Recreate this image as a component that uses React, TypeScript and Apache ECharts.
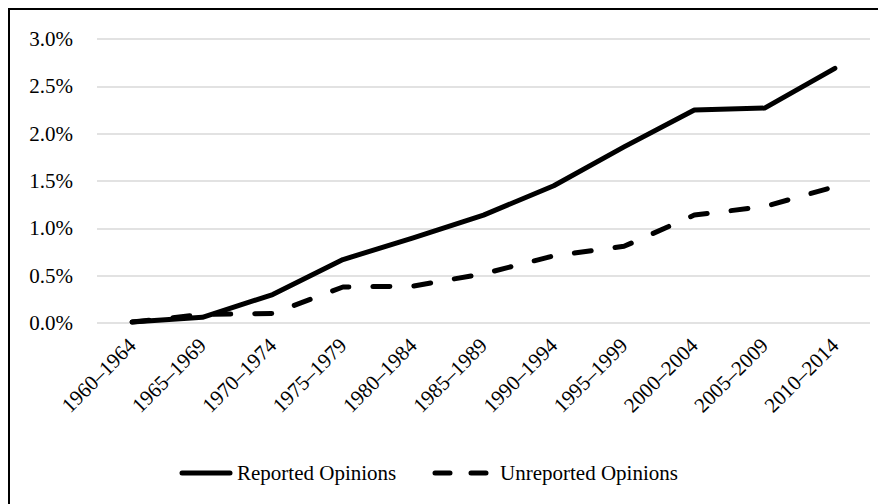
import React, { useEffect, useRef } from "react";
import * as echarts from "echarts";

const categories = [
  "1960–1964", "1965–1969", "1970–1974", "1975–1979", "1980–1984", "1985–1989",
  "1990–1994", "1995–1999", "2000–2004", "2005–2009", "2010–2014",
];
const reported = [0.01, 0.06, 0.30, 0.67, 0.90, 1.14, 1.45, 1.86, 2.25, 2.27, 2.69];
const unreported = [0.01, 0.09, 0.10, 0.38, 0.39, 0.52, 0.71, 0.81, 1.14, 1.23, 1.44];
const yTicks = { min: 0, max: 3, interval: 0.5 };
const seriesNames = ["Reported Opinions", "Unreported Opinions"];

const FONT = "'Liberation Serif', 'Times New Roman', Times, serif";

export default function App() {
  const ref = useRef<HTMLDivElement>(null);
  useEffect(() => {
    if (!ref.current) return;
    const chart = echarts.init(ref.current, null, { renderer: "svg" });
    chart.setOption({
      animation: false,
      textStyle: { fontFamily: FONT },
      grid: { left: 87, right: 22, top: 29, bottom: 187 },
      xAxis: {
        type: "category",
        data: categories,
        boundaryGap: true,
        axisLine: { show: false },
        axisTick: { show: false },
        axisLabel: {
          rotate: 45,
          fontSize: 21,
          color: "#000",
          fontFamily: FONT,
          margin: 19,
          interval: 0,
        },
      },
      yAxis: {
        type: "value",
        min: yTicks.min,
        max: yTicks.max,
        interval: yTicks.interval,
        axisLine: { show: false },
        axisTick: { show: false },
        splitLine: { lineStyle: { color: "#d9d9d9", width: 1.5 } },
        axisLabel: {
          fontSize: 21,
          color: "#000",
          fontFamily: FONT,
          margin: 24,
          formatter: (v: number) => v.toFixed(1) + "%",
        },
      },
      legend: { show: false },
      graphic: [
        {
          type: "line",
          shape: { x1: 172, y1: 463, x2: 220, y2: 463 },
          style: { stroke: "#000", lineWidth: 5, lineCap: "round" },
        },
        {
          type: "text",
          x: 227,
          y: 463,
          style: {
            text: seriesNames[0],
            fontSize: 21,
            fontFamily: FONT,
            fill: "#000",
            verticalAlign: "middle",
          },
        },
        {
          type: "line",
          shape: { x1: 425, y1: 463, x2: 478, y2: 463 },
          style: { stroke: "#000", lineWidth: 5, lineCap: "round", lineDash: [15, 21] },
        },
        {
          type: "text",
          x: 490,
          y: 463,
          style: {
            text: seriesNames[1],
            fontSize: 21,
            fontFamily: FONT,
            fill: "#000",
            verticalAlign: "middle",
          },
        },
      ],
      series: [
        {
          name: seriesNames[0],
          type: "line",
          data: reported,
          symbol: "none",
          lineStyle: { color: "#000", width: 5, cap: "round", join: "round" },
          itemStyle: { color: "#000" },
        },
        {
          name: seriesNames[1],
          type: "line",
          data: unreported,
          symbol: "none",
          lineStyle: {
            color: "#000",
            width: 5,
            type: [17, 24],
            cap: "round",
            join: "round",
          },
          itemStyle: { color: "#000" },
        },
      ],
    });
    return () => chart.dispose();
  }, []);
  return (
    <div style={{ width: 886, height: 504, border: "2px solid #000", boxSizing: "border-box", background: "#fff" }}>
      <div ref={ref} style={{ width: 882, height: 500 }} />
    </div>
  );
}
